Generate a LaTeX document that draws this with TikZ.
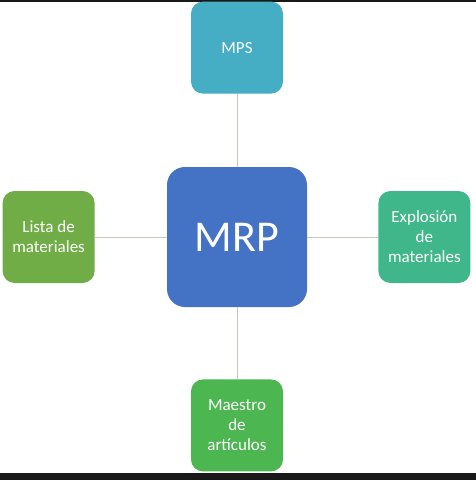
\documentclass[tikz,border=0pt]{standalone}
\usepackage{fontspec}
\setmainfont{Carlito}
\usetikzlibrary{positioning}
\definecolor{mrpazul}{RGB}{68,114,196}
\definecolor{mpsturq}{RGB}{69,174,196}
\definecolor{listaverde}{RGB}{112,173,71}
\definecolor{explverde}{RGB}{64,183,138}
\definecolor{maesverde}{RGB}{76,183,80}
\definecolor{linea}{RGB}{205,200,178}

\begin{document}
\begin{tikzpicture}[x=1pt, y=-1pt,
    caja/.style={rounded corners=12pt, minimum size=92pt, inner sep=0pt,
      text=white, align=center, font=\fontsize{17}{20}\selectfont},
    enlace/.style={draw=linea, line width=1pt}]
		%%%%% START %%%%%
		
		\useasboundingbox (0, 0) rectangle (476, 480);
		\fill[black!90] (0, 0) rectangle (476, 1.5);
		\fill[black!90] (0, 473) rectangle (476, 480);
		
		\node[caja, fill=mrpazul, minimum size=140pt, rounded corners=18pt,
		  font=\fontsize{44}{50}\selectfont] (mrp) at (237, 237) {MRP};
		
		\node[caja, fill=mpsturq, above=73pt of mrp] (mps) {MPS};
		\node[caja, fill=listaverde, left=72pt of mrp] (lista) {Lista de\\materiales};
		\node[caja, fill=explverde, right=71pt of mrp] (expl) {Explosión\\de\\materiales};
		\node[caja, fill=maesverde, below=72pt of mrp] (maestro) {Maestro\\de\\artículos};
		
		\draw[enlace] (mrp) -- (mps);
		\draw[enlace] (mrp) -- (lista);
		\draw[enlace] (mrp) -- (expl);
		\draw[enlace] (mrp) -- (maestro);
		
		%%%%% END %%%%%
\end{tikzpicture}
\end{document}
